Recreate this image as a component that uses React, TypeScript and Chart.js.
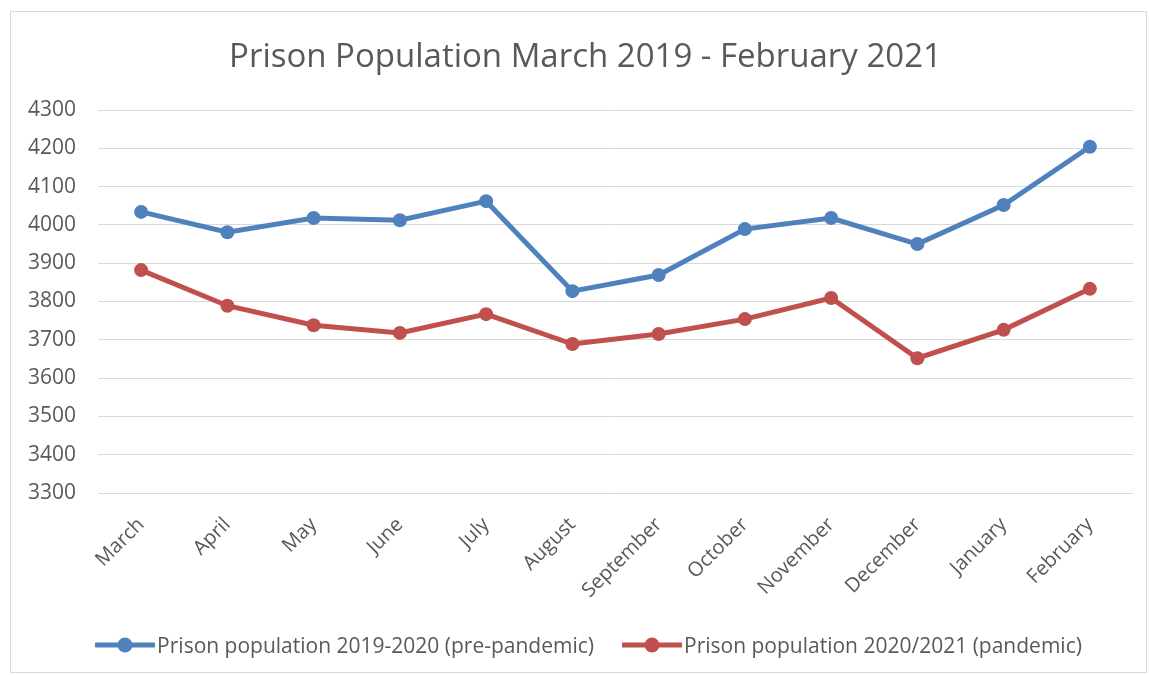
import React, { useEffect, useRef } from "react";
import { Chart, registerables } from "chart.js";

Chart.register(...registerables);

const categories = ["March", "April", "May", "June", "July", "August", "September", "October", "November", "December", "January", "February"];
const prePandemic = [4034, 3981, 4018, 4012, 4062, 3827, 3869, 3989, 4018, 3950, 4052, 4204];
const pandemic = [3882, 3789, 3738, 3718, 3767, 3689, 3715, 3754, 3809, 3652, 3726, 3833];
const seriesNames = ["Prison population 2019-2020 (pre-pandemic)", "Prison population 2020/2021 (pandemic)"];
const seriesColors = ["#4F81BD", "#C0504D"];
const titleText = "Prison Population March 2019 - February 2021";
const yMin = 3300;
const yMax = 4300;
const yStep = 100;

const FONT = "'Open Sans', 'Noto Sans', sans-serif";
const TEXT = "#595959";

export default function App() {
  const ref = useRef<HTMLCanvasElement | null>(null);

  useEffect(() => {
    document.body.style.margin = "0";
    const chart = new Chart(ref.current as HTMLCanvasElement, {
      type: "line",
      data: {
        labels: categories,
        datasets: [prePandemic, pandemic].map((d, i) => ({
          label: seriesNames[i],
          data: d,
          borderColor: seriesColors[i],
          backgroundColor: seriesColors[i],
          borderWidth: 5,
          pointRadius: 7,
          pointHoverRadius: 7,
          pointBorderWidth: 0,
          tension: 0,
        })),
      },
      options: {
        animation: false,
        responsive: false,
        devicePixelRatio: 1,
        layout: { padding: { left: 20, right: 16, top: 110, bottom: 62 } },
        plugins: {
          legend: { display: false },
          tooltip: { enabled: false },
          title: { display: false },
        },
        scales: {
          x: {
            offset: true,
            grid: { display: false, drawTicks: false },
            border: { display: false },
            ticks: {
              color: TEXT,
              font: { family: FONT, size: 20 },
              maxRotation: 45,
              minRotation: 45,
              padding: 20,
              autoSkip: false,
            },
            afterFit: (s: any) => {
              s.height = 120;
            },
          },
          y: {
            min: yMin,
            max: yMax,
            grid: { color: "#d9d9d9", lineWidth: 1, drawTicks: false },
            border: { display: false },
            ticks: {
              stepSize: yStep,
              color: TEXT,
              font: { family: FONT, size: 21 },
              padding: 22,
              callback: (v: any) => String(v),
            },
            afterFit: (s: any) => {
              s.width = 78;
            },
          },
        },
      },
    });
    return () => chart.destroy();
  }, []);

  const legendItem = (i: number) => (
    <div key={i} style={{ display: "flex", alignItems: "center", marginRight: i === 0 ? 28 : 0 }}>
      <svg width={60} height={20} style={{ marginRight: 2 }}>
        <line x1={1} y1={10} x2={59} y2={10} stroke={seriesColors[i]} strokeWidth={5} strokeLinecap="round" />
        <circle cx={30} cy={10} r={7.5} fill={seriesColors[i]} />
      </svg>
      <span>{seriesNames[i]}</span>
    </div>
  );

  return (
    <div style={{ position: "relative", width: 1149, height: 675, background: "#fff", overflow: "hidden" }}>
      <canvas ref={ref} width={1149} height={675} style={{ position: "absolute", left: 0, top: 0 }} />
      <div
        style={{
          position: "absolute",
          left: 0,
          top: 35,
          width: 1149,
          paddingLeft: 22,
          boxSizing: "border-box",
          textAlign: "center",
          fontFamily: FONT,
          fontSize: 33,
          lineHeight: "40px",
          color: TEXT,
          whiteSpace: "nowrap",
        }}
      >
        {titleText}
      </div>
      <div
        style={{
          position: "absolute",
          left: 10,
          top: 11,
          width: 1137,
          height: 662,
          border: "1.5px solid #d9d9d9",
          boxSizing: "border-box",
          pointerEvents: "none",
        }}
      />
      <div
        style={{
          position: "absolute",
          left: 0,
          width: 1149,
          top: 629,
          display: "flex",
          justifyContent: "center",
          paddingLeft: 28,
          boxSizing: "border-box",
          fontFamily: FONT,
          fontSize: 21,
          color: TEXT,
          lineHeight: "32px",
          whiteSpace: "nowrap",
        }}
      >
        {legendItem(0)}
        {legendItem(1)}
      </div>
    </div>
  );
}
